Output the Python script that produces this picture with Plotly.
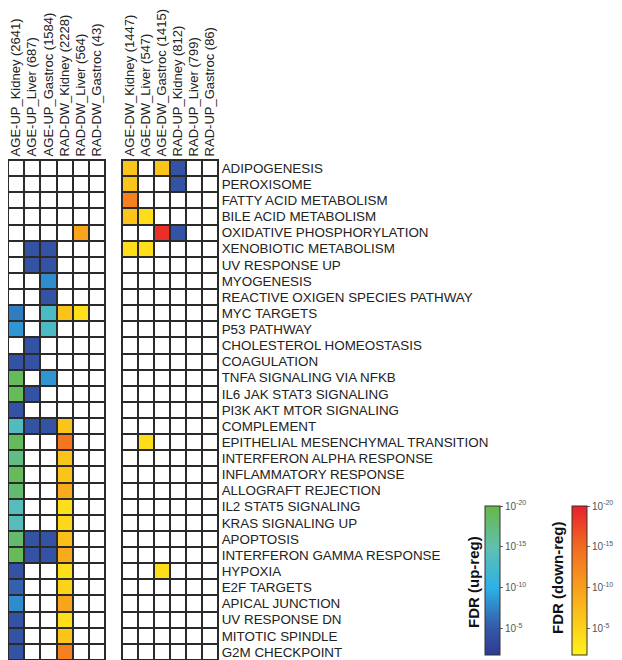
import plotly.graph_objects as go

W, H = 622, 660
OFF = 8  # browser body margin offset compensation (page px = figure px + 8)

pathways = [
    "ADIPOGENESIS", "PEROXISOME", "FATTY ACID METABOLISM", "BILE ACID METABOLISM",
    "OXIDATIVE PHOSPHORYLATION", "XENOBIOTIC METABOLISM", "UV RESPONSE UP", "MYOGENESIS",
    "REACTIVE OXIGEN SPECIES PATHWAY", "MYC TARGETS", "P53 PATHWAY", "CHOLESTEROL HOMEOSTASIS",
    "COAGULATION", "TNFA SIGNALING VIA NFKB", "IL6 JAK STAT3 SIGNALING", "PI3K AKT MTOR SIGNALING",
    "COMPLEMENT", "EPITHELIAL MESENCHYMAL TRANSITION", "INTERFERON ALPHA RESPONSE",
    "INFLAMMATORY RESPONSE", "ALLOGRAFT REJECTION", "IL2 STAT5 SIGNALING", "KRAS SIGNALING UP",
    "APOPTOSIS", "INTERFERON GAMMA RESPONSE", "HYPOXIA", "E2F TARGETS", "APICAL JUNCTION",
    "UV RESPONSE DN", "MITOTIC SPINDLE", "G2M CHECKPOINT",
]

left_cols = ["AGE-UP_Kidney (2641)", "AGE-UP_Liver (687)", "AGE-UP_Gastroc (1584)",
             "RAD-DW_Kidney (2228)", "RAD-DW_Liver (564)", "RAD-DW_Gastroc (43)"]
right_cols = ["AGE-DW_Kidney (1447)", "AGE-DW_Liver (547)", "AGE-DW_Gastroc (1415)",
              "RAD-UP_Kidney (812)", "RAD-UP_Liver (799)", "RAD-UP_Gastroc (86)"]

N = None
# values are -log10(FDR); None = not significant
age_up_kidney = [N, N, N, N, N, N, N, N, N, 7, 8.5, N, 4.5, 19, 19, 4.5, 13.5, 19, 17, 19,
                 18, 14, 14, 18, 19, 4.5, 5.5, 8, 4.5, 4.5, 4.5]
age_up_liver = [N, N, N, N, N, 4.5, 4.5, N, N, N, N, 4.5, 4.5, N, 4.5, N, 4.5, N, N, N,
                N, N, N, 4.5, 4.5, N, N, N, N, N, N]
age_up_gastroc = [N, N, N, N, N, 4.5, 4.5, 8, 4.5, 13, 13, N, N, 8.5, N, N, 4.5, N, N, N,
                  N, N, N, 4.5, 4.5, N, N, N, N, N, N]
rad_dw_kidney = [N, N, N, N, N, N, N, N, N, 6.5, N, N, N, N, N, N, 6.5, 14, 6.5, 6.5,
                 9, 4, 4.5, 7, 9, 4, 5, 9.5, 4, 6.5, 13]
rad_dw_liver = [N, N, N, N, 9.5, N, N, N, N, 3.5, N, N, N, N, N, N, N, N, N, N,
                N, N, N, N, N, N, N, N, N, N, N]
rad_dw_gastroc = [N] * 31

age_dw_kidney = [6.5, 6.5, 13, 6.5, N, 4, N, N, N, N, N, N, N, N, N, N, N, N, N, N,
                 N, N, N, N, N, N, N, N, N, N, N]
age_dw_liver = [N, N, N, 4, N, 4, N, N, N, N, N, N, N, N, N, N, N, 4, N, N,
                N, N, N, N, N, N, N, N, N, N, N]
age_dw_gastroc = [6.5, N, N, N, 19, N, N, N, N, N, N, N, N, N, N, N, N, N, N, N,
                  N, N, N, N, N, 4, N, N, N, N, N]
rad_up_kidney = [4.5, 4.5, N, N, 4.5, N, N, N, N, N, N, N, N, N, N, N, N, N, N, N,
                 N, N, N, N, N, N, N, N, N, N, N]
rad_up_liver = [N] * 31
rad_up_gastroc = [N] * 31

cbar_ticks = [5, 10, 15, 20]
cbar_ticktext = ["10<sup>-5</sup>", "10<sup>-10</sup>", "10<sup>-15</sup>", "10<sup>-20</sup>"]

up_scale = [[0, "#2e3a92"], [0.18, "#3558a8"], [0.45, "#2cb1e6"], [0.72, "#60c0b0"], [1, "#66b845"]]
dn_scale = [[0, "#fff21c"], [0.18, "#fdd21a"], [0.45, "#f7a01d"], [0.72, "#f26c22"], [1, "#e8202a"]]

left_data = [age_up_kidney, age_up_liver, age_up_gastroc, rad_dw_kidney, rad_dw_liver, rad_dw_gastroc]
left_up = [True, True, True, False, False, False]
right_data = [age_dw_kidney, age_dw_liver, age_dw_gastroc, rad_up_kidney, rad_up_liver, rad_up_gastroc]
right_up = [False, False, False, True, True, True]


def matrix(cols, mask, want_up):
    return [[(cols[j][i] if mask[j] == want_up else None) for j in range(len(cols))]
            for i in range(len(pathways))]


def px(x):  # page x -> paper fraction
    return (x - OFF) / W


def py(y):  # page y -> paper fraction (from bottom)
    return (H - (y - OFF)) / H


fig = go.Figure()
for xa, ya, names, cols, mask in [("x", "y", left_cols, left_data, left_up),
                                  ("x2", "y2", right_cols, right_data, right_up)]:
    fig.add_trace(go.Heatmap(
        z=[[0] * len(names) for _ in pathways], x=names, y=pathways,
        colorscale=[[0, "white"], [1, "white"]], showscale=False,
        xgap=2, ygap=2, hoverinfo="skip", xaxis=xa, yaxis=ya))
    fig.add_trace(go.Heatmap(
        z=matrix(cols, mask, True), x=names, y=pathways, coloraxis="coloraxis",
        xgap=2, ygap=2, xaxis=xa, yaxis=ya))
    fig.add_trace(go.Heatmap(
        z=matrix(cols, mask, False), x=names, y=pathways, coloraxis="coloraxis2",
        xgap=2, ygap=2, xaxis=xa, yaxis=ya))

font = "Arial, 'Liberation Sans', sans-serif"
gridc = "#2a2a2a"
xcommon = dict(side="top", tickangle=-90, showgrid=False, zeroline=False, ticks="",
               tickmode="linear", dtick=1,
               tickfont=dict(size=13, color="#222"), showline=True, mirror=True,
               linewidth=1, linecolor=gridc, automargin=False, fixedrange=True)
ycommon = dict(showgrid=False, zeroline=False, ticks="", autorange="reversed",
               domain=[py(660), py(160)], showline=True, mirror=True, linewidth=1,
               linecolor=gridc, automargin=False, fixedrange=True,
               tickmode="linear", dtick=1,
               categoryorder="array", categoryarray=pathways)

cb_common = dict(xanchor="left", y=py(580.5), yanchor="middle", len=149,
                 lenmode="pixels", thickness=15, xpad=0, ypad=0, outlinewidth=1,
                 outlinecolor="#333", tickvals=cbar_ticks, ticktext=cbar_ticktext,
                 ticks="outside", ticklen=3, tickcolor="#666",
                 tickfont=dict(size=10, color="#555"))

fig.update_layout(
    width=W, height=H, margin=dict(l=0, r=0, t=0, b=0, autoexpand=False),
    paper_bgcolor="white", plot_bgcolor=gridc,
    font=dict(family=font, color="#222"),
    xaxis=dict(domain=[px(8), px(105)], anchor="y", **xcommon),
    xaxis2=dict(domain=[px(122), px(218)], anchor="y2", **xcommon),
    yaxis=dict(anchor="x", showticklabels=False, **ycommon),
    yaxis2=dict(anchor="x2", side="right", matches="y", showticklabels=True,
                tickfont=dict(size=13.4, color="#222"), **ycommon),
    coloraxis=dict(colorscale=up_scale, cmin=1.8, cmax=20,
                   colorbar=dict(x=px(485), **cb_common)),
    coloraxis2=dict(colorscale=dn_scale, cmin=1.8, cmax=20,
                    colorbar=dict(x=px(572), **cb_common)),
    showlegend=False,
    annotations=[
        dict(text="<b>FDR (up-reg)</b>", x=px(473), y=py(582), xref="paper", yref="paper",
             textangle=-90, showarrow=False, font=dict(size=15, color="#111"),
             xanchor="center", yanchor="middle"),
        dict(text="<b>FDR (down-reg)</b>", x=px(557), y=py(578), xref="paper", yref="paper",
             textangle=-90, showarrow=False, font=dict(size=15, color="#111"),
             xanchor="center", yanchor="middle"),
    ],
)

fig.write_html("out.html")
